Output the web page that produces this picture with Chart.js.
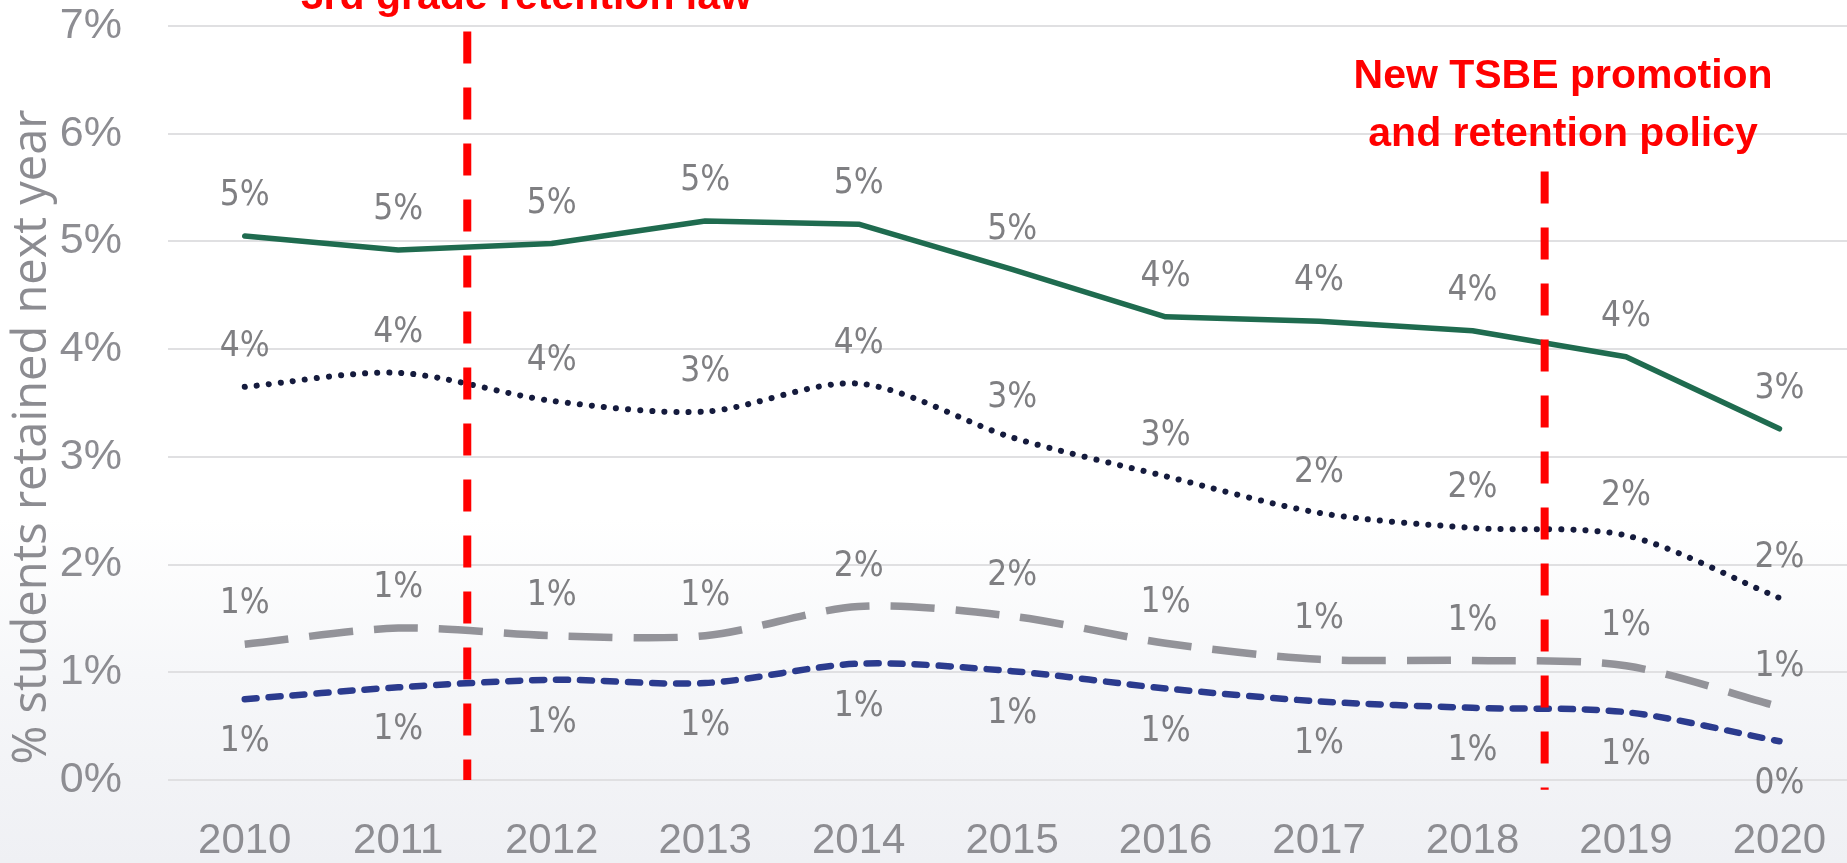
<!DOCTYPE html>
<html>
<head>
<meta charset="utf-8">
<script src="https://cdn.jsdelivr.net/npm/chart.js@4.4.1/dist/chart.umd.min.js"></script>
<style>
  html, body { margin: 0; padding: 0; }
  body {
    width: 1847px; height: 863px; overflow: hidden;
    background: linear-gradient(180deg, #ffffff 0%, #ffffff 60%, #f6f7f9 78%, #eff0f4 100%);
  }
  #wrap { position: relative; width: 1847px; height: 863px; }
  canvas { display: block; }
</style>
</head>
<body>
<div id="wrap"><canvas id="c" width="1847" height="863"></canvas></div>
<script>
// ---- data ----
const categories = ['2010','2011','2012','2013','2014','2015','2016','2017','2018','2019','2020'];
const seriesSolid    = [5.05, 4.92, 4.98, 5.19, 5.16, 4.74, 4.30, 4.26, 4.17, 3.93, 3.26];
const seriesDotted   = [3.65, 3.78, 3.52, 3.42, 3.68, 3.18, 2.82, 2.48, 2.34, 2.27, 1.69];
const seriesGrayDash = [1.26, 1.41, 1.34, 1.34, 1.61, 1.52, 1.27, 1.12, 1.11, 1.06, 0.68];
const seriesBlueDash = [0.75, 0.86, 0.93, 0.90, 1.08, 1.01, 0.85, 0.73, 0.67, 0.63, 0.36];
const yTicks = [0, 1, 2, 3, 4, 5, 6, 7];
const yAxisTitle = '% students retained next year';
const policyLines = [1.45, 8.47];            // position between years (category index)
const policyText = [
  ['3rd grade retention law'],
  ['New TSBE promotion', 'and retention policy']
];

// ---- layout / style config (not data) ----
const policyStyle = [
  { top: 6.95, bottom: 0,     textX: 1.835, textY: [7.16] },
  { top: 5.65, bottom: -0.09, textX: 8.59,  textY: [6.425, 5.887] }
];

const toXY = arr => arr.map((v, i) => ({ x: i, y: v }));

const overlay = {
  id: 'overlay',
  afterDatasetsDraw(chart) {
    const { ctx, scales: { x, y } } = chart;
    // data labels
    chart.data.datasets.forEach((ds, di) => {
      const meta = chart.getDatasetMeta(di);
      ctx.save();
      ctx.font = '35px "Liberation Sans Narrow", "DejaVu Sans Condensed", sans-serif';
      ctx.fillStyle = '#7f7f82';
      ctx.textAlign = 'center';
      ctx.textBaseline = 'middle';
      meta.data.forEach((pt, i) => {
        const v = ds.data[i].y;
        const dy = ds.labelPos === 'below' ? 43 : -40;
        ctx.fillText(Math.round(v) + '%', pt.x, pt.y + dy);
      });
      ctx.restore();
    });
    // red policy lines and texts
    policyLines.forEach((pos, k) => {
      const st = policyStyle[k];
      const px = x.getPixelForValue(pos);
      ctx.save();
      ctx.beginPath();
      ctx.setLineDash([32, 24]);
      ctx.lineWidth = 8;
      ctx.strokeStyle = '#ff0000';
      ctx.lineCap = 'butt';
      ctx.moveTo(px, y.getPixelForValue(st.top));
      ctx.lineTo(px, y.getPixelForValue(st.bottom));
      ctx.stroke();
      ctx.setLineDash([]);
      ctx.font = 'bold 41px "Liberation Sans", Arial, sans-serif';
      ctx.fillStyle = '#ff0000';
      ctx.textAlign = 'center';
      ctx.textBaseline = 'alphabetic';
      policyText[k].forEach((line, j) => {
        ctx.fillText(line, x.getPixelForValue(st.textX), y.getPixelForValue(st.textY[j]));
      });
      ctx.restore();
    });
    // y-axis title
    ctx.save();
    ctx.translate(46, 437);
    ctx.rotate(-Math.PI / 2);
    ctx.font = '47px "Open Sans", sans-serif';
    ctx.fillStyle = '#8c8c91';
    ctx.textAlign = 'center';
    ctx.textBaseline = 'alphabetic';
    ctx.fillText(yAxisTitle, 0, 0);
    ctx.restore();
  }
};

const xTickFont = { family: '"Liberation Sans", Arial, sans-serif', size: 42 };
const yTickFont = { family: '"Liberation Sans Narrow", "Liberation Sans", sans-serif', size: 43 };

new Chart(document.getElementById('c'), {
  type: 'line',
  data: {
    datasets: [
      { data: toXY(seriesSolid), borderColor: '#1f6b4f', borderWidth: 5.5, tension: 0,
        borderCapStyle: 'round', borderJoinStyle: 'round', pointRadius: 0, labelPos: 'above' },
      { data: toXY(seriesDotted), borderColor: '#151b3d', borderWidth: 6, tension: 0.3,
        borderDash: [0.1, 12], borderCapStyle: 'round', pointRadius: 0, labelPos: 'above' },
      { data: toXY(seriesGrayDash), borderColor: '#939399', borderWidth: 7.5, tension: 0.3,
        borderDash: [44, 21], borderCapStyle: 'butt', pointRadius: 0, labelPos: 'above' },
      { data: toXY(seriesBlueDash), borderColor: '#2b3b8e', borderWidth: 6.5, tension: 0.3,
        borderDash: [12, 12], borderCapStyle: 'round', pointRadius: 0, labelPos: 'below' }
    ]
  },
  options: {
    responsive: false,
    animation: false,
    events: [],
    layout: { padding: { top: 26, left: 0, right: 0, bottom: 0 } },
    plugins: { legend: { display: false }, tooltip: { enabled: false }, title: { display: false } },
    scales: {
      x: {
        type: 'linear', min: -0.5, max: 10.44,
        afterBuildTicks: s => { s.ticks = categories.map((c, i) => ({ value: i })); },
        afterFit: s => { s.height = 83; s.paddingLeft = 0; s.paddingRight = 0; },
        ticks: { autoSkip: false, maxRotation: 0, callback: v => categories[v], font: xTickFont,
                 color: '#8d8d92', padding: 36 },
        grid: { display: false, drawTicks: false },
        border: { display: false }
      },
      y: {
        min: 0, max: 7,
        afterBuildTicks: s => { s.ticks = yTicks.map(v => ({ value: v })); },
        afterFit: s => { s.width = 168; s.paddingTop = 0; s.paddingBottom = 0; },
        ticks: { callback: v => v + '%', font: yTickFont, color: '#8d8d92', padding: 46 },
        grid: { color: '#e0e0e2', lineWidth: 2, drawTicks: false },
        border: { display: false }
      }
    }
  },
  plugins: [overlay]
});
</script>
</body>
</html>
